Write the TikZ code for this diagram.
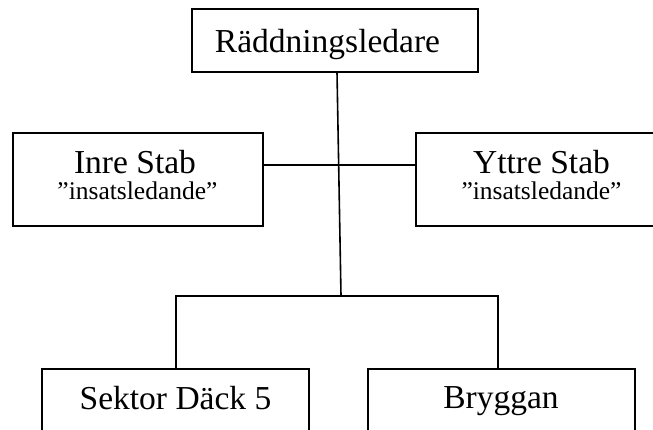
\documentclass[tikz,border=0pt]{standalone}
\usepackage{fontspec}
\setmainfont{Liberation Serif}
\tikzset{
  boxstyle/.style={draw=black, line width=2pt, inner sep=0pt},
  mainlabel/.style={anchor=base, inner sep=0pt, font=\fontsize{33.5}{36}\selectfont},
  sublabel/.style={anchor=base, inner sep=0pt, font=\fontsize{25.5}{28}\selectfont},
  conn/.style={draw=black, line width=1.6pt}
}
\begin{document}
\begin{tikzpicture}[x=1pt,y=-1pt]
\useasboundingbox (0,0) rectangle (653,429);
\clip (0,0) rectangle (653,429);
% boxes
\node[boxstyle, minimum width=286pt, minimum height=63pt] (top) at (335,40.5) {};
\node[boxstyle, minimum width=250.6pt, minimum height=93.3pt] (inre) at (138,179.4) {};
\node[boxstyle, minimum width=250.6pt, minimum height=93.3pt] (yttre) at (541,179.4) {};
\node[boxstyle, minimum width=267.6pt, minimum height=90pt] (sektor) at (175.5,414) {};
\node[boxstyle, minimum width=267.6pt, minimum height=90pt] (bryggan) at (501.5,413.5) {};
% texts
\node[mainlabel] (ttop) at (327.5,52) {Räddningsledare};
\node[mainlabel] (tinre) at (135,173) {Inre Stab};
\node[sublabel] (sinre) at (137.5,199) {”insatsledande”};
\node[mainlabel] (tyttre) at (541.5,173) {Yttre Stab};
\node[sublabel] (syttre) at (541.5,199) {”insatsledande”};
\node[mainlabel] (tsektor) at (175.5,409) {Sektor Däck 5};
\node[mainlabel] (tbryggan) at (501,408.5) {Bryggan};
% connectors
\coordinate (j) at (341,295.7);
\coordinate (tstart) at (337,72);
\draw[conn] (tstart) -- (j);
\draw[conn] (inre.east |- 0,165) -- (yttre.west |- 0,165);
\draw[conn] (sektor.north -| 175.7,0) |- (j) -| (bryggan.north -| 498,0);
\end{tikzpicture}
\end{document}
